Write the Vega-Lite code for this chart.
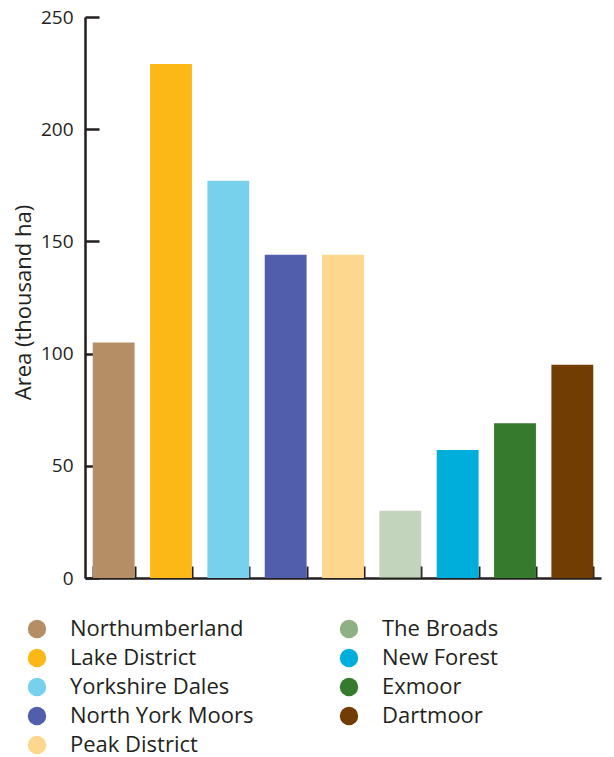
{
  "$schema": "https://vega.github.io/schema/vega-lite/v6.json",
  "autosize": "none",
  "padding": {"left": 85, "top": 17, "right": 13, "bottom": 179},
  "width": 516,
  "height": 561,
  "background": "white",
  "config": {
    "font": "Open Sans",
    "view": {"stroke": null}
  },
  "data": {
    "values": [
      {"park": "Northumberland", "area": 105},
      {"park": "Lake District", "area": 229},
      {"park": "Yorkshire Dales", "area": 177},
      {"park": "North York Moors", "area": 144},
      {"park": "Peak District", "area": 144},
      {"park": "The Broads", "area": 30},
      {"park": "New Forest", "area": 57},
      {"park": "Exmoor", "area": 69},
      {"park": "Dartmoor", "area": 95}
    ]
  },
  "mark": {"type": "bar"},
  "encoding": {
    "x": {
      "field": "park",
      "type": "nominal",
      "sort": null,
      "scale": {"paddingInner": 0.27, "paddingOuter": 0.135},
      "axis": {
        "title": null,
        "labels": false,
        "tickBand": "extent",
        "domainColor": "#231f20",
        "domainWidth": 2.5,
        "tickColor": "#231f20",
        "tickWidth": 2,
        "tickSize": -12
      }
    },
    "y": {
      "field": "area",
      "type": "quantitative",
      "scale": {"domain": [0, 250], "nice": false},
      "axis": {
        "title": "Area (thousand ha)",
        "titleFont": "Open Sans",
        "titleFontSize": 22,
        "titleFontWeight": "normal",
        "titleColor": "#231f20",
        "titlePadding": 5,
        "titleY": 285,
        "values": [0, 50, 100, 150, 200, 250],
        "grid": false,
        "domainColor": "#231f20",
        "domainWidth": 2.5,
        "tickColor": "#231f20",
        "tickWidth": 2.5,
        "tickSize": -14,
        "labelFontSize": 19,
        "labelColor": "#231f20",
        "labelPadding": 26
      }
    },
    "color": {
      "field": "park",
      "type": "nominal",
      "scale": {
        "domain": ["Northumberland", "Lake District", "Yorkshire Dales", "North York Moors", "Peak District", "The Broads", "New Forest", "Exmoor", "Dartmoor"],
        "range": ["#b68e66", "#fbb817", "#77d0ec", "#505eab", "#fed78f", "#8fb083", "#00aedb", "#357a2d", "#723d03"]
      },
      "legend": {
        "title": null,
        "orient": "none",
        "legendX": -59,
        "legendY": 601,
        "columns": 2,
        "columnPadding": 84,
        "rowPadding": 7,
        "symbolType": "circle",
        "symbolSize": 340,
        "symbolStrokeWidth": 0,
        "symbolOpacity": 1,
        "labelFontSize": 22,
        "labelColor": "#231f20",
        "labelOffset": 22,
        "labelLimit": 300
      }
    },
    "opacity": {
      "condition": {"test": "datum.park === 'The Broads'", "value": 0.545},
      "value": 1
    }
  }
}
